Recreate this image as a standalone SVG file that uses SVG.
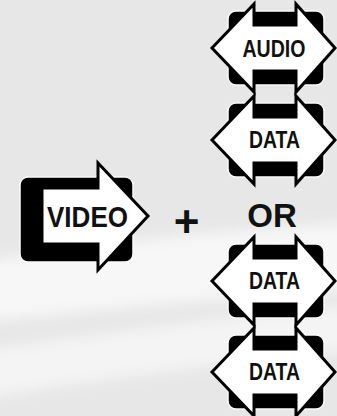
<svg xmlns="http://www.w3.org/2000/svg" xmlns:xlink="http://www.w3.org/1999/xlink" width="337" height="416" viewBox="0 0 337 416">
<style>
.box{fill:#000;stroke:#fafafa;stroke-width:1.5}
.arrow{fill:#fff;stroke:#000;stroke-width:3;stroke-linejoin:miter}
.lbl{font-family:"Liberation Sans Narrow","Liberation Sans",Arial,sans-serif;font-weight:bold;fill:#111;text-anchor:middle}
.big{font-family:"Liberation Sans",Arial,sans-serif;font-weight:bold;fill:#111;text-anchor:middle}
</style>
<defs>
<filter id="soft" x="-10%" y="-50%" width="120%" height="200%"><feGaussianBlur stdDeviation="7"/></filter>
<g id="hex">
<rect class="box" x="-46" y="-37" width="96" height="74" rx="8"/>
<polygon class="arrow" points="-62,0 -20,-44 -20,-23 22,-23 22,-44 61,0 22,44 22,23 -20,23 -20,44"/>
</g>
</defs>
<rect width="337" height="416" fill="#e7e7e7"/>
<g id="background" filter="url(#soft)">
<path d="M-20,262 C80,245 200,232 360,222 L360,290 C220,298 100,310 -20,322 Z" fill="#f7f7f7"/>
<path d="M-20,350 C80,338 200,318 360,305 L360,350 C220,362 100,380 -20,398 Z" fill="#f4f4f4"/>
</g>
<g id="connectors"></g>
<g id="video">
<rect class="box" x="20" y="177" width="113" height="85" rx="8"/>
<polygon class="arrow" points="42,188 98,188 98,163 148,216 98,270 98,244 42,244"/>
<text class="lbl" x="87.5" y="227" font-size="30" textLength="81" lengthAdjust="spacingAndGlyphs">VIDEO</text>
</g>
<g id="plus">
<text class="big" x="186.5" y="237" font-size="44">+</text>
</g>
<g id="or">
<text class="big" x="272" y="227" font-size="33">OR</text>
</g>
<g id="audio">
<use xlink:href="#hex" transform="translate(274,48)"/>
<text class="lbl" x="274" y="57" font-size="24" textLength="63" lengthAdjust="spacingAndGlyphs">AUDIO</text>
</g>
<g id="data1">
<use xlink:href="#hex" transform="translate(274,140)"/>
<text class="lbl" x="274.5" y="148" font-size="24" textLength="51" lengthAdjust="spacingAndGlyphs">DATA</text>
</g>
<g id="data2">
<use xlink:href="#hex" transform="translate(274,281)"/>
<text class="lbl" x="274.5" y="289" font-size="24" textLength="51" lengthAdjust="spacingAndGlyphs">DATA</text>
</g>
<g id="data3">
<use xlink:href="#hex" transform="translate(274,372)"/>
<text class="lbl" x="274.5" y="380" font-size="24" textLength="51" lengthAdjust="spacingAndGlyphs">DATA</text>
</g>
</svg>
